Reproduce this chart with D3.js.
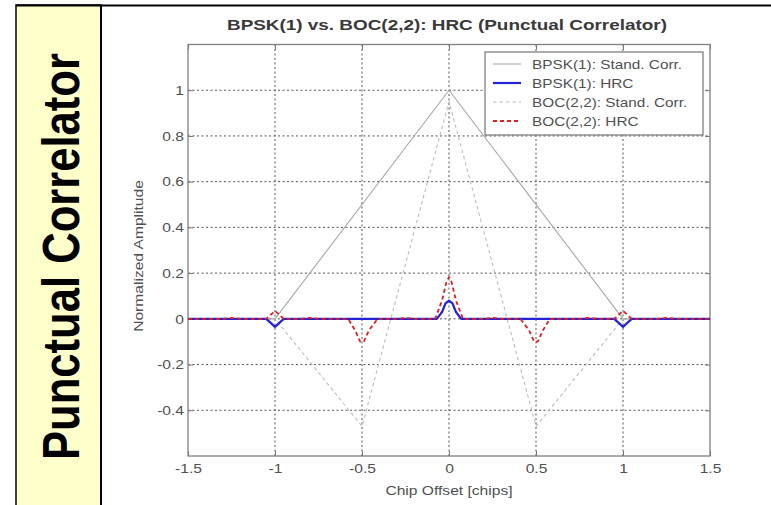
<!DOCTYPE html>
<html>
<head>
<meta charset="utf-8">
<script src="https://cdn.jsdelivr.net/npm/d3@7"></script>
<style>
  html, body { margin: 0; padding: 0; background: #ffffff; }
  svg { display: block; }
  text { font-family: "Liberation Sans", Arial, sans-serif; }
</style>
</head>
<body>
<svg id="chart" width="771" height="505"></svg>
<script>
// ---------------- DATA ----------------
const titleText = "BPSK(1) vs. BOC(2,2): HRC (Punctual Correlator)";
const sideLabel = "Punctual Correlator";
const xLabel = "Chip Offset [chips]";
const yLabel = "Normalized Amplitude";

const xTickValues = [-1.5, -1, -0.5, 0, 0.5, 1, 1.5];
const xTickLabels = ["-1.5", "-1", "-0.5", "0", "0.5", "1", "1.5"];
const yTickValues = [-0.4, -0.2, 0, 0.2, 0.4, 0.6, 0.8, 1];
const yTickLabels = ["-0.4", "-0.2", "0", "0.2", "0.4", "0.6", "0.8", "1"];

const seriesNames = ["BPSK(1): Stand. Corr.", "BPSK(1): HRC", "BOC(2,2): Stand. Corr.", "BOC(2,2): HRC"];

// BPSK(1) standard correlator
const bpskStdX = [-1.5, -1, 0, 1, 1.5];
const bpskStdY = [0, 0, 1, 0, 0];

// BOC(2,2) standard correlator
const bocStdX = [-1.5, -1, -0.5, 0, 0.5, 1, 1.5];
const bocStdY = [0, 0, -0.47, 0.95, -0.47, 0, 0];

// BPSK(1) HRC
const bpskHrcX = [-1.5, -1.05, -1.0, -0.95, -0.07, -0.04, -0.02, 0, 0.02, 0.04, 0.07, 0.95, 1.0, 1.05, 1.5];
const bpskHrcY = [0, 0, -0.035, 0, 0, 0.03, 0.068, 0.08, 0.068, 0.03, 0, 0, -0.035, 0, 0];

// BOC(2,2) HRC
const bocHrcX = [-1.5, -1.3, -1.25, -1.2, -1.05, -1.0, -0.95, -0.85, -0.8, -0.75, -0.58, -0.54, -0.51, -0.49, -0.46, -0.41,
                 -0.3, -0.25, -0.2, -0.08, -0.04, -0.015, 0, 0.015, 0.04, 0.08,
                 0.2, 0.25, 0.3, 0.41, 0.46, 0.49, 0.51, 0.54, 0.58, 0.75, 0.8, 0.85, 0.95, 1.0, 1.05, 1.2, 1.25, 1.3, 1.5];
const bocHrcY = [0, 0, 0.004, 0, 0, 0.035, 0, 0, 0.004, 0, 0, -0.05, -0.1, -0.1, -0.05, 0,
                 0, 0.004, 0, 0, 0.08, 0.16, 0.183, 0.16, 0.08, 0,
                 0, 0.004, 0, 0, -0.05, -0.1, -0.1, -0.05, 0, 0, 0.004, 0, 0, 0.035, 0, 0, 0.004, 0, 0];

// ---------------- DRAW ----------------
const svg = d3.select("#chart");
const W = 771, H = 505;

function stretch(sel, f) {
  sel.each(function () {
    const w = this.getComputedTextLength();
    d3.select(this).attr("textLength", w * f).attr("lengthAdjust", "spacingAndGlyphs");
  });
}

// left yellow panel
svg.append("rect").attr("x", 16).attr("y", 5).attr("width", 85).attr("height", H)
  .attr("fill", "#ffffcc").attr("stroke", "#000").attr("stroke-width", 1.5);
svg.append("line").attr("x1", 101).attr("x2", 101).attr("y1", 5).attr("y2", H)
  .attr("stroke", "#000").attr("stroke-width", 2);
svg.append("line").attr("x1", 16).attr("x2", W).attr("y1", 5.5).attr("y2", 5.5)
  .attr("stroke", "#000").attr("stroke-width", 2);

const side = svg.append("text").text(sideLabel)
  .attr("font-size", 52).attr("font-weight", "bold").attr("fill", "#000")
  .attr("text-anchor", "start");
{
  const w = side.node().getComputedTextLength();
  const sx = 407 / w;
  side.attr("transform", `translate(79,460) rotate(-90) scale(${sx},1)`);
}

// plot area
const pL = 188, pR = 710, pT = 44.5, pB = 456;
const x = d3.scaleLinear().domain([-1.5, 1.5]).range([pL, pR]);
const y = d3.scaleLinear().domain([-0.6, 1.2]).range([pB, pT]);

const textColor = "#505050";

// grid
const grid = svg.append("g");
xTickValues.filter(v => v > -1.5 && v < 1.5).forEach(v => {
  grid.append("line").attr("x1", x(v)).attr("x2", x(v)).attr("y1", pT).attr("y2", pB)
    .attr("stroke", "#555").attr("stroke-width", 1).attr("stroke-dasharray", "2,2.5");
});
yTickValues.forEach(v => {
  grid.append("line").attr("x1", pL).attr("x2", pR).attr("y1", y(v)).attr("y2", y(v))
    .attr("stroke", "#555").attr("stroke-width", 1).attr("stroke-dasharray", "2,2.5");
});

// axes
const axStyle = g => {
  g.select(".domain").remove();
  g.selectAll(".tick line").attr("stroke", "#777");
  g.selectAll(".tick text").attr("fill", textColor).attr("font-size", 13);
};
const xAxis = svg.append("g").attr("transform", `translate(0,${pB})`)
  .call(d3.axisBottom(x).tickValues(xTickValues).tickFormat((d, i) => xTickLabels[i])
    .tickSizeInner(-5).tickSizeOuter(0).tickPadding(8))
  .call(axStyle);
stretch(xAxis.selectAll(".tick text"), 1.2);

const yAxis = svg.append("g").attr("transform", `translate(${pL},0)`)
  .call(d3.axisLeft(y).tickValues(yTickValues).tickFormat((d, i) => yTickLabels[i])
    .tickSizeInner(-5).tickSizeOuter(0).tickPadding(4))
  .call(axStyle);
stretch(yAxis.selectAll(".tick text"), 1.2);

svg.append("g").attr("transform", `translate(0,${pT})`)
  .call(d3.axisTop(x).tickValues(xTickValues).tickFormat("").tickSizeInner(-5).tickSizeOuter(0))
  .call(axStyle);
svg.append("g").attr("transform", `translate(${pR},0)`)
  .call(d3.axisRight(y).tickValues(yTickValues).tickFormat("").tickSizeInner(-5).tickSizeOuter(0))
  .call(axStyle);

// box
svg.append("rect").attr("x", pL).attr("y", pT).attr("width", pR - pL).attr("height", pB - pT)
  .attr("fill", "none").attr("stroke", "#808080").attr("stroke-width", 1.3);

// clip
svg.append("clipPath").attr("id", "clip").append("rect")
  .attr("x", pL).attr("y", pT).attr("width", pR - pL).attr("height", pB - pT);

const line = d3.line().x(d => x(d[0])).y(d => y(d[1]));
const zip = (xs, ys) => xs.map((v, i) => [v, ys[i]]);

const styles = [
  { stroke: "#a8a8a8", width: 1.1, dash: null },
  { stroke: "#2424d6", width: 2.2, dash: null },
  { stroke: "#bdbdbd", width: 1.1, dash: "3.5,3" },
  { stroke: "#e01e1e", width: 1.8, dash: "4,3" }
];
const data = [zip(bpskStdX, bpskStdY), zip(bpskHrcX, bpskHrcY), zip(bocStdX, bocStdY), zip(bocHrcX, bocHrcY)];

const plot = svg.append("g").attr("clip-path", "url(#clip)");
[0, 2, 1, 3].forEach(i => {
  plot.append("path").datum(data[i]).attr("d", line)
    .attr("fill", "none").attr("stroke", styles[i].stroke).attr("stroke-width", styles[i].width)
    .attr("stroke-dasharray", styles[i].dash).attr("stroke-linejoin", "round");
});

// legend
const lg = svg.append("g");
lg.append("rect").attr("x", 485).attr("y", 52).attr("width", 218).attr("height", 83)
  .attr("fill", "#fff").attr("stroke", "#808080").attr("stroke-width", 1.3);
const legRows = [64, 83, 102, 121];
seriesNames.forEach((name, i) => {
  lg.append("line").attr("x1", 493).attr("x2", 521).attr("y1", legRows[i]).attr("y2", legRows[i])
    .attr("stroke", styles[i].stroke).attr("stroke-width", styles[i].width)
    .attr("stroke-dasharray", styles[i].dash);
  const t = lg.append("text").text(name).attr("x", 532).attr("y", legRows[i] + 4.5)
    .attr("font-size", 13).attr("fill", textColor);
  stretch(t, 1.18);
});

// title and labels
const tt = svg.append("text").text(titleText).attr("x", 447).attr("y", 30)
  .attr("text-anchor", "middle").attr("font-size", 15).attr("font-weight", "bold").attr("fill", "#3a3a3a");
stretch(tt, 1.26);

const xl = svg.append("text").text(xLabel).attr("x", 449).attr("y", 495)
  .attr("text-anchor", "middle").attr("font-size", 13).attr("fill", textColor);
stretch(xl, 1.2);

const yl = svg.append("text").text(yLabel).attr("transform", "translate(143,256) rotate(-90)")
  .attr("text-anchor", "middle").attr("font-size", 13).attr("fill", textColor);
stretch(yl, 1.2);
</script>
</body>
</html>
